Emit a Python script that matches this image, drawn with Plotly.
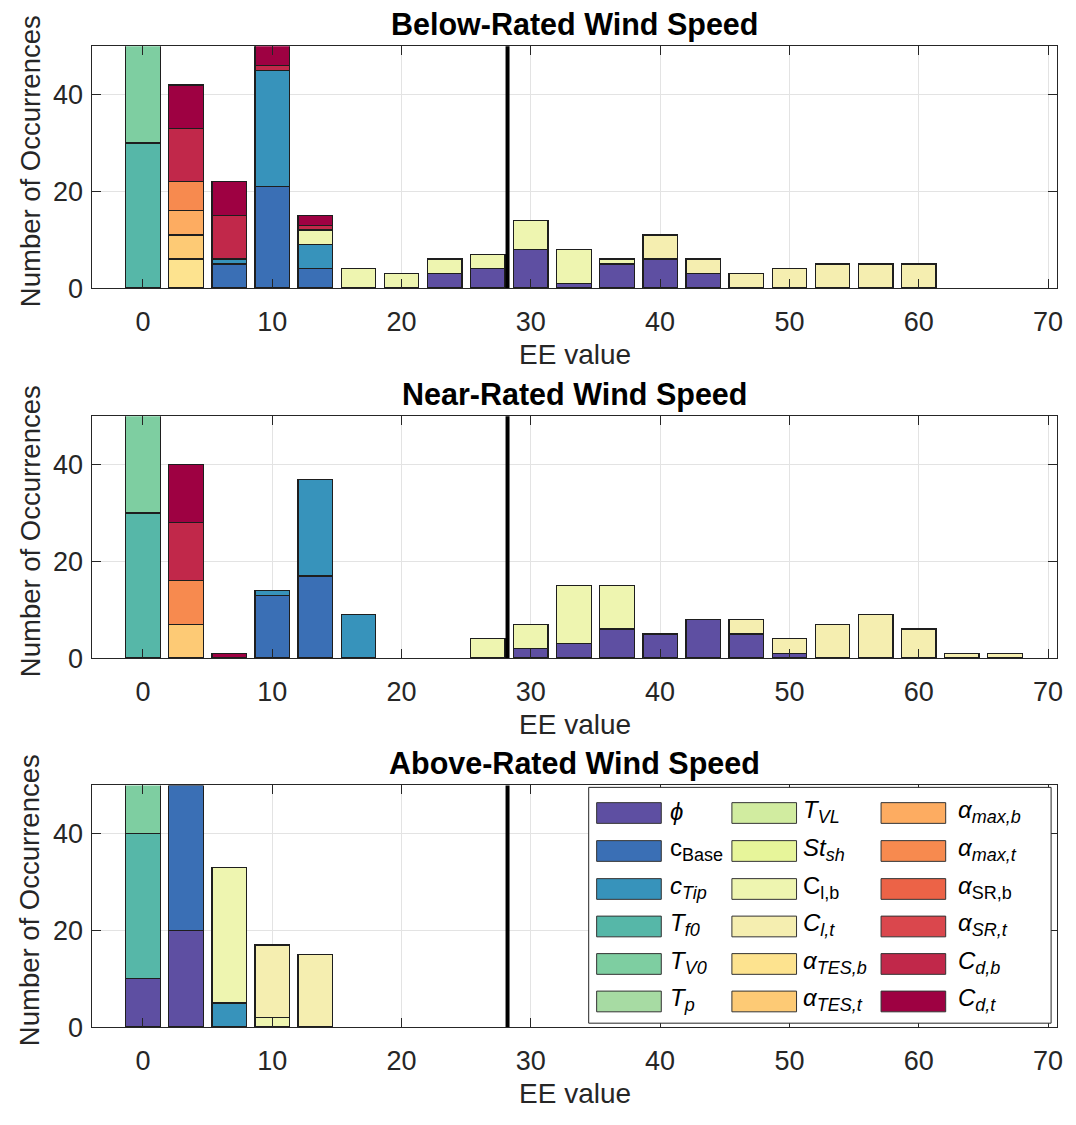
import plotly.graph_objects as go
from plotly.subplots import make_subplots

W, H = 1076, 1125

# ---- parameters (legend order = stacking order, bottom to top) ----
PARAM_KEYS = ["phi", "cBase", "cTip", "Tf0", "TV0", "Tp", "TVL", "Stsh", "Clb", "Clt",
              "aTESb", "aTESt", "amaxb", "amaxt", "aSRb", "aSRt", "Cdb", "Cdt"]


def sub(text, italic=True):
    inner = f"<i>{text}</i>" if italic else text
    return f"<sub><span style='font-size:18px'>{inner}</span></sub>"


PARAM_LABELS = [
    "<i>ϕ</i>", "c" + sub("Base", False), "<i>c</i>" + sub("Tip"),
    "<i>T</i>" + sub("f0"), "<i>T</i>" + sub("V0"), "<i>T</i>" + sub("p"),
    "<i>T</i>" + sub("VL"), "<i>St</i>" + sub("sh"), "C" + sub("l,b", False),
    "<i>C</i>" + sub("l,t"), "<i>α</i>" + sub("TES,b"), "<i>α</i>" + sub("TES,t"),
    "<i>α</i>" + sub("max,b"), "<i>α</i>" + sub("max,t"), "<i>α</i>" + sub("SR,b", False),
    "<i>α</i>" + sub("SR,t"), "<i>C</i>" + sub("d,b"), "<i>C</i>" + sub("d,t"),
]
PARAM_COLORS = ["#5e4fa2", "#3a6fb5", "#3793bb", "#56b7a8", "#7ecea1", "#a7dba3",
                "#d1eca0", "#e7f59a", "#eef5b0", "#f5eeb0", "#fde38f", "#fdca75",
                "#fdac61", "#f78a4f", "#ec6347", "#da474d", "#c1284a", "#9e0142"]

# ---- histogram bins of the elementary-effect (EE) value ----
BIN_WIDTH = 10 / 3
EE_BINS = [i * BIN_WIDTH for i in range(21)]
EE_THRESHOLD = 28.2

PANEL_TITLES = ["Below-Rated Wind Speed", "Near-Rated Wind Speed", "Above-Rated Wind Speed"]

# occurrences per bin (bins 0 .. 20) for each parameter
below = {
    "phi":   [0, 0, 0, 0, 0, 0, 0, 3, 4, 8, 1, 5, 6, 3, 0, 0, 0, 0, 0, 0, 0],
    "cBase": [0, 0, 5, 21, 4, 0, 0, 0, 0, 0, 0, 0, 0, 0, 0, 0, 0, 0, 0, 0, 0],
    "cTip":  [0, 0, 1, 24, 5, 0, 0, 0, 0, 0, 0, 0, 0, 0, 0, 0, 0, 0, 0, 0, 0],
    "Tf0":   [30, 0, 0, 0, 0, 0, 0, 0, 0, 0, 0, 0, 0, 0, 0, 0, 0, 0, 0, 0, 0],
    "TV0":   [30, 0, 0, 0, 0, 0, 0, 0, 0, 0, 0, 0, 0, 0, 0, 0, 0, 0, 0, 0, 0],
    "Clb":   [0, 0, 0, 0, 3, 4, 3, 3, 3, 6, 7, 1, 0, 0, 0, 0, 0, 0, 0, 0, 0],
    "Clt":   [0, 0, 0, 0, 0, 0, 0, 0, 0, 0, 0, 0, 5, 3, 3, 4, 5, 5, 5, 0, 0],
    "aTESb": [0, 6, 0, 0, 0, 0, 0, 0, 0, 0, 0, 0, 0, 0, 0, 0, 0, 0, 0, 0, 0],
    "aTESt": [0, 5, 0, 0, 0, 0, 0, 0, 0, 0, 0, 0, 0, 0, 0, 0, 0, 0, 0, 0, 0],
    "amaxb": [0, 5, 0, 0, 0, 0, 0, 0, 0, 0, 0, 0, 0, 0, 0, 0, 0, 0, 0, 0, 0],
    "amaxt": [0, 6, 0, 0, 0, 0, 0, 0, 0, 0, 0, 0, 0, 0, 0, 0, 0, 0, 0, 0, 0],
    "Cdb":   [0, 11, 9, 1, 1, 0, 0, 0, 0, 0, 0, 0, 0, 0, 0, 0, 0, 0, 0, 0, 0],
    "Cdt":   [0, 9, 7, 12, 2, 0, 0, 0, 0, 0, 0, 0, 0, 0, 0, 0, 0, 0, 0, 0, 0],
}
near = {
    "phi":   [0, 0, 0, 0, 0, 0, 0, 0, 0, 2, 3, 6, 5, 8, 5, 1, 0, 0, 0, 0, 0],
    "cBase": [0, 0, 0, 13, 17, 0, 0, 0, 0, 0, 0, 0, 0, 0, 0, 0, 0, 0, 0, 0, 0],
    "cTip":  [0, 0, 0, 1, 20, 9, 0, 0, 0, 0, 0, 0, 0, 0, 0, 0, 0, 0, 0, 0, 0],
    "Tf0":   [30, 0, 0, 0, 0, 0, 0, 0, 0, 0, 0, 0, 0, 0, 0, 0, 0, 0, 0, 0, 0],
    "TV0":   [30, 0, 0, 0, 0, 0, 0, 0, 0, 0, 0, 0, 0, 0, 0, 0, 0, 0, 0, 0, 0],
    "Clb":   [0, 0, 0, 0, 0, 0, 0, 0, 4, 5, 12, 9, 0, 0, 0, 0, 0, 0, 0, 0, 0],
    "Clt":   [0, 0, 0, 0, 0, 0, 0, 0, 0, 0, 0, 0, 0, 0, 3, 3, 7, 9, 6, 1, 1],
    "aTESt": [0, 7, 0, 0, 0, 0, 0, 0, 0, 0, 0, 0, 0, 0, 0, 0, 0, 0, 0, 0, 0],
    "amaxt": [0, 9, 0, 0, 0, 0, 0, 0, 0, 0, 0, 0, 0, 0, 0, 0, 0, 0, 0, 0, 0],
    "Cdb":   [0, 12, 0, 0, 0, 0, 0, 0, 0, 0, 0, 0, 0, 0, 0, 0, 0, 0, 0, 0, 0],
    "Cdt":   [0, 12, 1, 0, 0, 0, 0, 0, 0, 0, 0, 0, 0, 0, 0, 0, 0, 0, 0, 0, 0],
}
above = {
    "phi":   [10, 20, 0, 0, 0, 0, 0, 0, 0, 0, 0, 0, 0, 0, 0, 0, 0, 0, 0, 0, 0],
    "cBase": [0, 30, 0, 0, 0, 0, 0, 0, 0, 0, 0, 0, 0, 0, 0, 0, 0, 0, 0, 0, 0],
    "cTip":  [0, 0, 5, 0, 0, 0, 0, 0, 0, 0, 0, 0, 0, 0, 0, 0, 0, 0, 0, 0, 0],
    "Tf0":   [30, 0, 0, 0, 0, 0, 0, 0, 0, 0, 0, 0, 0, 0, 0, 0, 0, 0, 0, 0, 0],
    "TV0":   [30, 0, 0, 0, 0, 0, 0, 0, 0, 0, 0, 0, 0, 0, 0, 0, 0, 0, 0, 0, 0],
    "Clb":   [0, 0, 28, 2, 0, 0, 0, 0, 0, 0, 0, 0, 0, 0, 0, 0, 0, 0, 0, 0, 0],
    "Clt":   [0, 0, 0, 15, 15, 0, 0, 0, 0, 0, 0, 0, 0, 0, 0, 0, 0, 0, 0, 0, 0],
}
PANELS = [below, near, above]

FONT = "Liberation Sans, Arial, Helvetica, sans-serif"
AXIS_COLOR = "#262626"


def px_x(p):
    return p / W


def px_y(p):
    return 1 - p / H


# plot-area boxes in pixels: (top, bottom)
X_LEFT, X_RIGHT = 93, 1063
PANEL_BOX = [(47, 292), (422, 667), (796, 1041)]

fig = make_subplots(rows=3, cols=1)

for r, counts in enumerate(PANELS, start=1):
    for key, label, color in zip(PARAM_KEYS, PARAM_LABELS, PARAM_COLORS):
        if key not in counts:
            continue
        # empty bins are left out so that no zero-height outline is drawn
        heights = [v if v else None for v in counts[key]]
        fig.add_trace(
            go.Bar(
                x=EE_BINS, y=heights, width=0.8 * BIN_WIDTH, name=label,
                marker=dict(color=color, line=dict(color="#1e1e1e", width=1.3)),
                showlegend=False,
            ),
            row=r, col=1,
        )
    fig.add_vline(x=EE_THRESHOLD, line=dict(color="black", width=4), row=r, col=1)

for r, (top, bot) in enumerate(PANEL_BOX, start=1):
    xa = "xaxis" if r == 1 else f"xaxis{r}"
    ya = "yaxis" if r == 1 else f"yaxis{r}"
    fig.layout[xa].update(
        domain=[px_x(X_LEFT), px_x(X_RIGHT)], range=[-3.9, 70.7],
        tickvals=[0, 10, 20, 30, 40, 50, 60, 70], ticks="inside", ticklen=9,
        tickcolor=AXIS_COLOR, mirror="allticks", showline=True, linecolor=AXIS_COLOR,
        linewidth=1, showgrid=True, gridcolor="#e3e3e3", gridwidth=1, zeroline=False,
        tickfont=dict(family=FONT, size=27, color="#262626"), ticklabelstandoff=9,
    )
    fig.layout[ya].update(
        domain=[px_y(bot), px_y(top)], range=[0, 50],
        tickvals=[0, 20, 40], ticks="inside", ticklen=9,
        tickcolor=AXIS_COLOR, mirror="allticks", showline=True, linecolor=AXIS_COLOR,
        linewidth=1, showgrid=True, gridcolor="#e3e3e3", gridwidth=1, zeroline=False,
        tickfont=dict(family=FONT, size=27, color="#262626"), ticklabelstandoff=3,
    )

annotations = []
xc = px_x((X_LEFT + X_RIGHT) / 2)
for title, (top, bot) in zip(PANEL_TITLES, PANEL_BOX):
    annotations.append(dict(
        text=f"<b>{title}</b>", x=xc, y=px_y(top - 22), xref="paper", yref="paper",
        xanchor="center", yanchor="middle", showarrow=False,
        font=dict(family=FONT, size=30.5, color="black"),
    ))
    annotations.append(dict(
        text="EE value", x=xc, y=px_y(bot + 67), xref="paper", yref="paper",
        xanchor="center", yanchor="middle", showarrow=False,
        font=dict(family=FONT, size=28, color="#262626"),
    ))
    annotations.append(dict(
        text="Number of Occurrences", x=px_x(30), y=px_y((top + bot) / 2 - 6), xref="paper",
        yref="paper", xanchor="center", yanchor="middle", textangle=-90, showarrow=False,
        font=dict(family=FONT, size=27.5, color="#262626"),
    ))

# ---- legend drawn as a 3-column grid inside the bottom panel ----
shapes = [dict(type="rect", xref="paper", yref="paper", x0=px_x(592), x1=px_x(1057),
               y0=px_y(1037), y1=px_y(798), fillcolor="white",
               line=dict(color=AXIS_COLOR, width=1), layer="above")]
COL_SWATCH_X = [600, 736, 886]
COL_TEXT_X = [672, 805, 961]
ROW_Y = [824, 862.5, 901, 939, 977, 1015]
for i, (label, color) in enumerate(zip(PARAM_LABELS, PARAM_COLORS)):
    c, rw = divmod(i, 6)
    x0 = COL_SWATCH_X[c]
    yc = ROW_Y[rw]
    shapes.append(dict(type="rect", xref="paper", yref="paper", x0=px_x(x0), x1=px_x(x0 + 65),
                       y0=px_y(yc + 10.5), y1=px_y(yc - 10.5), fillcolor=color,
                       line=dict(color="#333333", width=1), layer="above"))
    annotations.append(dict(
        text=label, x=px_x(COL_TEXT_X[c]), y=px_y(yc - 2), xref="paper", yref="paper",
        xanchor="left", yanchor="middle", showarrow=False,
        font=dict(family=FONT, size=24, color="black"),
    ))

fig.update_layout(
    width=W, height=H, margin=dict(l=0, r=0, t=0, b=0),
    paper_bgcolor="white", plot_bgcolor="white",
    barmode="stack", showlegend=False,
    annotations=annotations,
)
for s in shapes:
    fig.add_shape(**s)

fig.write_html("out.html")
